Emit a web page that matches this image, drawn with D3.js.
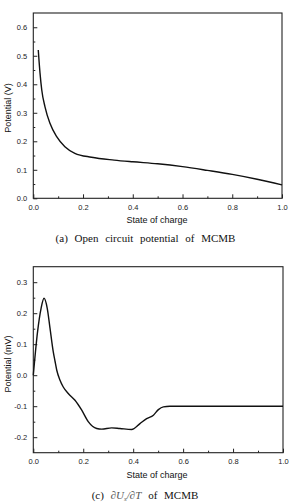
<!DOCTYPE html>
<html>
<head>
<meta charset="utf-8">
<script src="https://cdn.jsdelivr.net/npm/d3@7"></script>
<style>
  html, body { margin: 0; padding: 0; background: #fff; }
  svg { display: block; }
  .tick text { font-family: "Liberation Sans", Arial, sans-serif; font-size: 7.5px; fill: #222; }
  .title { font-family: "Liberation Sans", Arial, sans-serif; font-size: 9px; fill: #111; }
  .caption { font-family: "Liberation Serif", "Times New Roman", serif; font-size: 11px; fill: #111; }
</style>
</head>
<body>
<svg id="chart" width="290" height="503"></svg>
<script>
// (a) open circuit potential of MCMB
const socA = [0.02, 0.027, 0.034, 0.047, 0.067, 0.094, 0.127, 0.167, 0.234, 0.325, 0.4, 0.5, 0.6, 0.7, 0.8, 0.9, 1.0];
const ocpA = [0.52, 0.439, 0.38, 0.321, 0.263, 0.216, 0.181, 0.158, 0.144, 0.134, 0.128, 0.121, 0.111, 0.098, 0.084, 0.067, 0.047];

// (c) dU/dT of MCMB
const socC = [0, 0.017, 0.031, 0.043, 0.056, 0.067, 0.08, 0.087, 0.094, 0.107, 0.12, 0.14, 0.167, 0.194, 0.22, 0.254, 0.274, 0.314, 0.347, 0.394, 0.427, 0.454, 0.481, 0.501, 0.521, 0.547, 1.0];
const dudtC = [0.0, 0.14, 0.215, 0.248, 0.215, 0.151, 0.075, 0.045, 0.016, -0.016, -0.038, -0.059, -0.081, -0.113, -0.15, -0.172, -0.174, -0.17, -0.172, -0.175, -0.156, -0.14, -0.129, -0.111, -0.102, -0.1, -0.1];

const xTicks = [0, 0.2, 0.4, 0.6, 0.8, 1.0];
const xMinor = [0.1, 0.3, 0.5, 0.7, 0.9];
const yTicksA = [0, 0.1, 0.2, 0.3, 0.4, 0.5, 0.6];
const yMinorA = [0.05, 0.15, 0.25, 0.35, 0.45, 0.55];
const yTicksC = [-0.2, -0.1, 0, 0.1, 0.2, 0.3];
const yMinorC = [-0.15, -0.05, 0.05, 0.15, 0.25];

const svg = d3.select('#chart');
const fmt = (d) => d.toFixed(1);

function panel(opts) {
  const x = d3.scaleLinear().domain([0, 1]).range([opts.left, opts.right]);
  const y = d3.scaleLinear().domain(opts.yDomain).range([opts.bottom, opts.top]);
  const g = svg.append('g');

  g.append('g')
    .attr('transform', `translate(0,${opts.bottom})`)
    .call(d3.axisBottom(x).tickValues(xTicks).tickFormat(fmt).tickSizeInner(-4).tickSizeOuter(0).tickPadding(6))
    .call((a) => a.select('.domain').remove());
  g.append('g')
    .attr('transform', `translate(0,${opts.bottom})`)
    .call(d3.axisBottom(x).tickValues(xMinor).tickFormat('').tickSizeInner(-2).tickSizeOuter(0))
    .call((a) => a.select('.domain').remove());
  g.append('g')
    .attr('transform', `translate(${opts.left},0)`)
    .call(d3.axisLeft(y).tickValues(opts.yTicks).tickFormat(fmt).tickSizeInner(-4).tickSizeOuter(0).tickPadding(6))
    .call((a) => a.select('.domain').remove());
  g.append('g')
    .attr('transform', `translate(${opts.left},0)`)
    .call(d3.axisLeft(y).tickValues(opts.yMinor).tickFormat('').tickSizeInner(-2).tickSizeOuter(0))
    .call((a) => a.select('.domain').remove());
  g.selectAll('.tick line').attr('stroke', '#222');

  g.append('rect')
    .attr('x', opts.left).attr('y', opts.top)
    .attr('width', opts.right - opts.left).attr('height', opts.bottom - opts.top)
    .attr('fill', 'none').attr('stroke', '#222').attr('stroke-width', 1.1);

  const data = opts.xs.map((d, i) => [d, opts.ys[i]]);
  g.append('path')
    .datum(data)
    .attr('fill', 'none')
    .attr('stroke', '#111')
    .attr('stroke-width', 1.4)
    .attr('d', d3.line().x((d) => x(d[0])).y((d) => y(d[1])).curve(d3.curveMonotoneX));

  g.append('text').attr('class', 'title')
    .attr('x', 157).attr('y', opts.bottom + 25)
    .attr('text-anchor', 'middle').text('State of charge');
  g.append('text').attr('class', 'title')
    .attr('transform', `translate(11,${opts.yLabelY}) rotate(-90)`)
    .attr('text-anchor', 'middle').text(opts.yLabel);
  return g;
}

panel({ left: 33.3, right: 282, top: 13, bottom: 198.3, yDomain: [0, 0.65],
  yTicks: yTicksA, yMinor: yMinorA, xs: socA, ys: ocpA, yLabel: 'Potential (V)', yLabelY: 108 });

panel({ left: 33.3, right: 283, top: 266.7, bottom: 452.7, yDomain: [-0.25, 0.35],
  yTicks: yTicksC, yMinor: yMinorC, xs: socC, ys: dudtC, yLabel: 'Potential (mV)', yLabelY: 364 });

svg.append('text').attr('class', 'caption')
  .attr('x', 145.5).attr('y', 241.5).attr('text-anchor', 'middle')
  .attr('word-spacing', 4)
  .text('(a) Open circuit potential of MCMB');

const cap = svg.append('text').attr('class', 'caption')
  .attr('x', 145).attr('y', 498.5).attr('text-anchor', 'middle').attr('word-spacing', 4);
cap.append('tspan').text('(c) ');
cap.append('tspan').attr('font-style', 'italic').attr('fill', '#555').text('\u2202U');
cap.append('tspan').attr('font-style', 'italic').attr('fill', '#555').attr('font-size', '7px').attr('dy', 2).text('s');
cap.append('tspan').attr('font-style', 'italic').attr('fill', '#555').attr('dy', -2).text('/\u2202T');
cap.append('tspan').text(' of MCMB');
</script>
</body>
</html>
